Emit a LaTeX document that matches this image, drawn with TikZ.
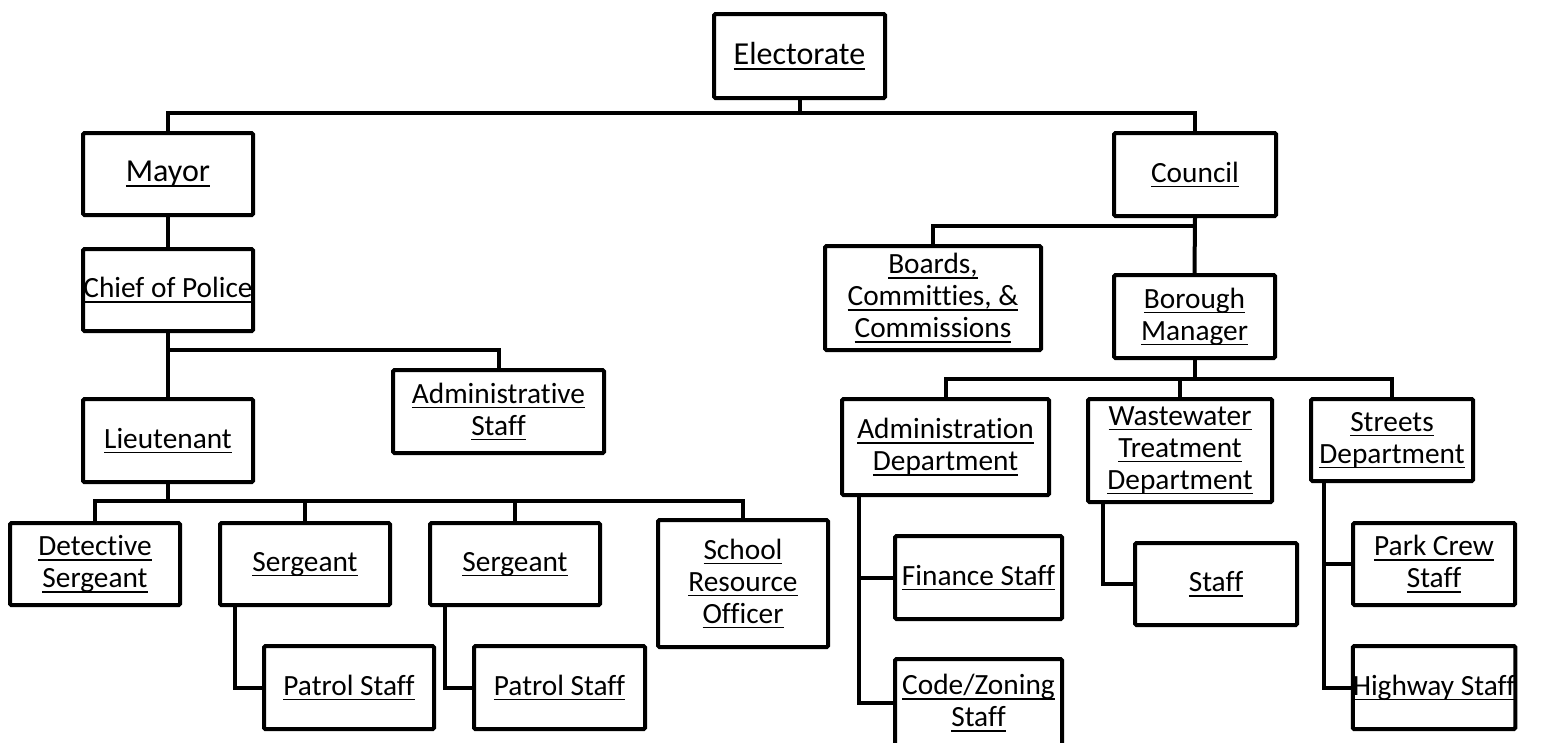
\documentclass[tikz,border=0pt]{standalone}
\usepackage{fontspec}
\setmainfont{Carlito}[Ligatures={NoCommon}]
\usetikzlibrary{calc}
\newcommand\ulx[1]{\leavevmode\setbox0\hbox{#1}\rlap{\rule[-0.17em]{\wd0}{0.05em}}\box0}
\newcommand\orgbox[7][]{\node[box, minimum width=#5*0.75pt, minimum height=#6*0.75pt, #1] (#2) at (#3,#4) {#7};}
\begin{document}
\begin{tikzpicture}[x=0.75pt,y=-0.75pt,
  box/.style={draw=black, line width=3pt, rounded corners=1pt, align=center, inner sep=0pt,
    font=\fontsize{22}{24}\selectfont},
  bigtext/.style={font=\fontsize{24}{26}\selectfont},
  conn/.style={draw=black, line width=3pt, line join=miter}]
\useasboundingbox (0,0) rectangle (1547,743);
\clip (0,0) rectangle (1547,743);
% boxes
\orgbox[bigtext]{elect}{799.5}{56}{171}{84}{\ulx{Electorate}}
\orgbox[bigtext]{mayor}{168}{174}{170}{82}{\ulx{Mayor}}
\orgbox{council}{1195}{174.5}{162}{83}{\ulx{Council}}
\orgbox{chief}{168}{290}{170}{82}{\ulx{Chief of Police}}
\orgbox{boards}{933}{298}{216}{104}{\ulx{Boards,}\\\ulx{Committies, \&}\\\ulx{Commissions}}
\orgbox{borough}{1194.5}{316.5}{161}{83}{\ulx{Borough}\\\ulx{Manager}}
\orgbox{adminstaff}{498.5}{411.5}{211}{83}{\ulx{Administrative}\\\ulx{Staff}}
\orgbox{lieut}{168}{440.5}{170}{83}{\ulx{Lieutenant}}
\orgbox{admindept}{945.5}{447}{207}{96}{\ulx{Administration}\\\ulx{Department}}
\orgbox{waste}{1180}{450.5}{184}{103}{\ulx{Wastewater}\\\ulx{Treatment}\\\ulx{Department}}
\orgbox{streets}{1392}{440}{162}{82}{\ulx{Streets}\\\ulx{Department}}
\orgbox{det}{95}{564}{170}{82}{\ulx{Detective}\\\ulx{Sergeant}}
\orgbox{sgta}{305}{564}{170}{82}{\ulx{Sergeant}}
\orgbox{sgtb}{515}{564}{170}{82}{\ulx{Sergeant}}
\orgbox{sro}{743}{583.5}{170}{127}{\ulx{School}\\\ulx{Resource}\\\ulx{Officer}}
\orgbox{patrola}{349}{687.5}{170}{83}{\ulx{Patrol Staff}}
\orgbox{patrolb}{559.5}{687.5}{171}{83}{\ulx{Patrol Staff}}
\orgbox{finance}{978.5}{577.5}{167}{83}{\ulx{Finance Staff}}
\orgbox{code}{978.5}{703}{167}{88}{\ulx{Code/Zoning}\\\ulx{Staff}}
\orgbox{wstaff}{1216}{584}{162}{82}{\ulx{Staff}}
\orgbox{park}{1434}{564}{162}{82}{\ulx{Park Crew}\\\ulx{Staff}}
\orgbox{highway}{1434}{687.5}{162}{83}{\ulx{Highway Staff}}
% rows
\coordinate (r0) at (0,113);
\coordinate (r1) at (0,350);
\coordinate (r2) at (0,501);
\coordinate (r3) at (0,226);
\coordinate (r4) at (0,379);
% connectors
\draw[conn] (elect.south) -- (elect.south |- r0);
\draw[conn] (mayor.north) -- (mayor.north |- r0) -- (council.north |- r0) -- (council.north);
\draw[conn] (mayor.south) -- (chief.north);
\draw[conn] (chief.south) -- (lieut.north);
\draw[conn] (chief.south |- r1) -- (adminstaff.north |- r1) -- (adminstaff.north);
\draw[conn] (lieut.south) -- (lieut.south |- r2);
\draw[conn] (det.north) -- (det.north |- r2) -- (sro.north |- r2) -- (sro.north);
\draw[conn] (sgta.north) -- (sgta.north |- r2);
\draw[conn] (sgtb.north) -- (sgtb.north |- r2);
\draw[conn] ([xshift=12.75pt]sgta.south west) |- (patrola.west);
\draw[conn] ([xshift=12.75pt]sgtb.south west) |- (patrolb.west);
\draw[conn] (council.south) -- (borough.north);
\draw[conn] (boards.north) -- (boards.north |- r3) -- (council.south |- r3);
\draw[conn] (borough.south) -- (borough.south |- r4);
\draw[conn] (admindept.north) -- (admindept.north |- r4) -- (streets.north |- r4) -- (streets.north);
\draw[conn] (waste.north) -- (waste.north |- r4);
\draw[conn] ([xshift=14.25pt]admindept.south west) |- (code.west);
\draw[conn] ([xshift=14.25pt]admindept.south west |- finance.west) -- (finance.west);
\draw[conn] ([xshift=12.75pt]waste.south west) |- (wstaff.west);
\draw[conn] ([xshift=11.25pt]streets.south west) |- (highway.west);
\draw[conn] ([xshift=11.25pt]streets.south west |- park.west) -- (park.west);
\end{tikzpicture}
\end{document}
